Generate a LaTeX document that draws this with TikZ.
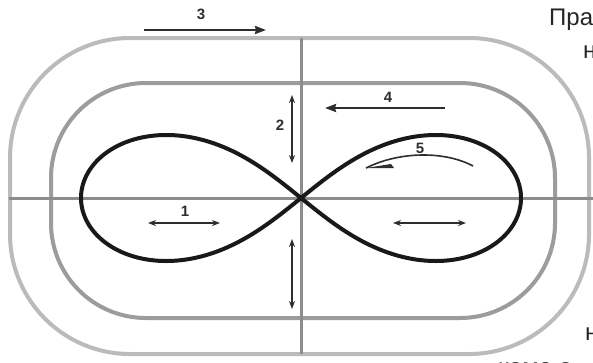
\documentclass[tikz,border=0pt]{standalone}
\usepackage{fontspec}
\setmainfont{Liberation Sans}
\usepackage{xcolor}
\usepackage{tikz}
\usetikzlibrary{arrows.meta}

\definecolor{outergray}{HTML}{BBBBBB}
\definecolor{innergray}{HTML}{9C9C9C}
\definecolor{axisgray}{HTML}{8C8C8C}
\definecolor{arrowgray}{HTML}{2E2E2E}

\begin{document}
\begin{tikzpicture}[
    x=1pt,y=-1pt,
    track/.style={line width=4pt},
    axis/.style={line width=3pt,draw=axisgray},
    eight/.style={line width=4pt,draw=black!90,line join=round},
    move/.style={line width=2.2pt,draw=arrowgray},
    both/.style={move,arrows={Stealth[length=8pt,width=6pt]-Stealth[length=8pt,width=6pt]}},
    num/.style={font=\fontsize{15}{15}\selectfont\bfseries,text=arrowgray,inner sep=0pt},
    side/.style={font=\fontsize{24}{24}\selectfont,text=black!85,inner sep=0pt,anchor=base west},
    >={Stealth[length=11pt,width=8pt,inset=1pt]}]
  \clip (0,0) rectangle (593,362);
  \fill[white] (0,0) rectangle (593,362);

  % tracks and axes
  \draw[track,draw=outergray,rounded corners=120pt] (10,38) rectangle (589,354);
  \draw[track,draw=innergray,rounded corners=95pt] (51,83) rectangle (555,318);
  \draw[axis] (301,38) -- (301,354);
  \draw[axis] (9,198) -- (593,198);

  % figure eight
  \draw[eight] plot[domain=0:360,samples=241,smooth,variable=\t]
        ({301+220*cos(\t)/(1+(sin(\t))^2)},{198+0.81*220*sin(\t)*cos(\t)/(1+(sin(\t))^2)});

  % movements
  \coordinate (s3) at (144,30);  \coordinate (e3) at (266,30);
  \coordinate (s4) at (445,108); \coordinate (e4) at (325,108);
  \coordinate (s2) at (292,95);  \coordinate (e2) at (292,163);
  \coordinate (s2b) at (292,239); \coordinate (e2b) at (292,309);
  \coordinate (s1) at (148,223); \coordinate (e1) at (220,223);
  \coordinate (s1b) at (393,223); \coordinate (e1b) at (466,223);
  \coordinate (s5) at (473,166); \coordinate (e5) at (366,168);

  \draw[move,->] (s3) -- (e3);
  \draw[move,->] (s4) -- (e4);
  \draw[both] (s2) -- (e2);
  \draw[both] (s2b) -- (e2b);
  \draw[both] (s1) -- (e1);
  \draw[both] (s1b) -- (e1b);
  \draw[move,line width=1.6pt] (s5) .. controls (445,151) and (400,151) .. (e5);
  \fill[arrowgray] (e5) -- ++(28,0) -- ++(-3,-4) -- cycle;

  \node[num] (n3) at (201,14) {3};
  \node[num] (n2) at (280,125) {2};
  \node[num] (n4) at (388,97) {4};
  \node[num] (n5) at (420,148) {5};
  \node[num] (n1) at (185,211) {1};

  % cut text at the right
  \node[side] (t1) at (549,25) {Пра};
  \node[side] (t2) at (583,58) {н};
  \node[side] (t3) at (585,340) {н};
  \node[side] (t4) at (498,375) {кома о};
\end{tikzpicture}
\end{document}
